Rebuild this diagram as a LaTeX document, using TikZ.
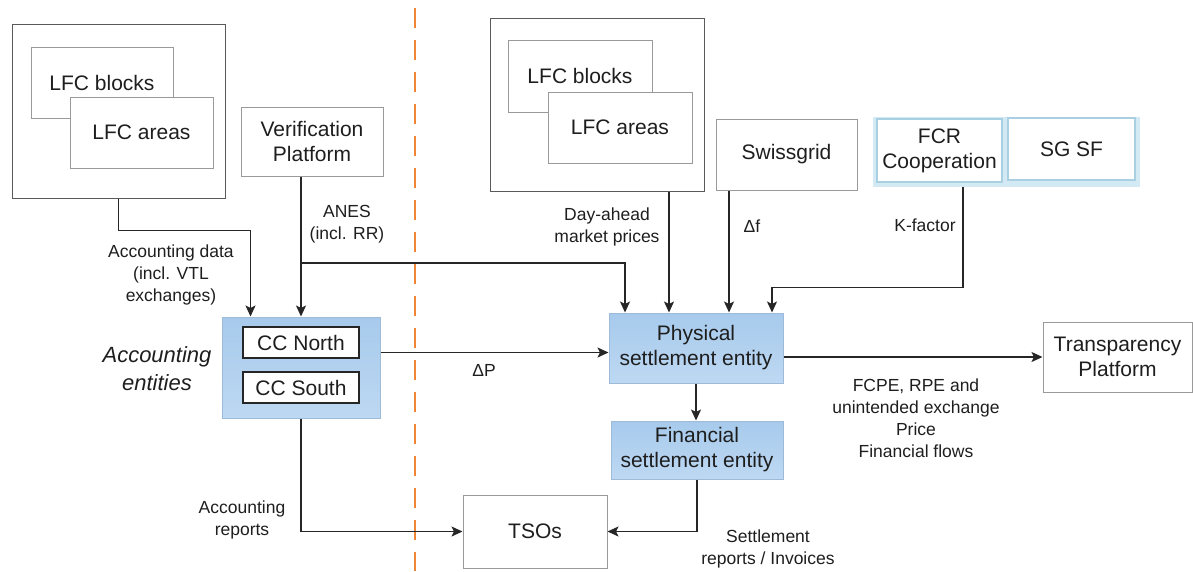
\documentclass[tikz,border=0pt]{standalone}
\usepackage{fontspec}
\setmainfont{Liberation Sans}
\usetikzlibrary{arrows.meta}
\definecolor{vtext}{HTML}{1e1e1e}
\definecolor{vline}{HTML}{262626}
\definecolor{vframe}{HTML}{9a9a9a}
\definecolor{vframedark}{HTML}{5a5a5a}
\definecolor{vbluetop}{HTML}{a7caec}
\definecolor{vbluebot}{HTML}{bdd8f2}
\definecolor{vblueedge}{HTML}{9dbbd9}
\definecolor{vglow}{HTML}{d3e9f4}
\definecolor{vglowedge}{HTML}{a9cfe2}
\definecolor{vorange}{HTML}{ef8636}

\begin{document}
\begin{tikzpicture}[x=1pt, y=-1pt,
		box/.style={draw=vframe, line width=1pt, fill=white, inner sep=0pt, align=center, text=vtext, font=\fontsize{21}{25}\selectfont},
		outerbox/.style={box, draw=vframedark},
		entitybox/.style={box, draw=vblueedge, top color=vbluetop, bottom color=vbluebot},
		ccbox/.style={box, draw=vline, line width=1.3pt},
		fcrbox/.style={box, draw=vglowedge, line width=1.2pt},
		flow/.style={draw=vline, line width=1.4pt, -{Stealth[length=11pt, width=10pt, inset=2.5pt]}},
		lbl/.style={align=center, text=vtext, inner sep=0pt, font=\fontsize{17.5}{22}\selectfont}]
		\useasboundingbox (0,0) rectangle (1193,571);
		\draw[color=vorange, line width=2pt, dash pattern=on 20pt off 12pt] (415,8) -- (415,571);
		\node[outerbox, minimum width=213pt, minimum height=174pt] (lfcL) at (118.5,111) {};
		\node[box, minimum width=142pt, minimum height=71pt] (blocksL) at (102,82.5) {LFC blocks};
		\node[box, minimum width=143pt, minimum height=71pt] (areasL) at (141.5,132.5) {LFC areas};
		\node[box, minimum width=142pt, minimum height=69pt] (verif) at (312,141.5) {Verification\\Platform};
		\node[outerbox, minimum width=214pt, minimum height=173pt] (lfcM) at (597,104.5) {};
		\node[box, minimum width=144pt, minimum height=72pt] (blocksM) at (580,76) {LFC blocks};
		\node[box, minimum width=144pt, minimum height=71pt] (areasM) at (620,127.5) {LFC areas};
		\node[box, minimum width=141pt, minimum height=71pt] (swiss) at (786.5,154.5) {Swissgrid};
		\node[draw=none, fill=vglow, minimum width=267pt, minimum height=70pt] (fcrgroup) at (1006.5,152) {};
		\node[fcrbox, minimum width=125pt, minimum height=63pt] (fcr) at (939.5,150.5) {FCR\\Cooperation};
		\node[fcrbox, minimum width=127pt, minimum height=62pt] (sgsf) at (1071.5,149) {SG SF};
		\node[entitybox, minimum width=158pt, minimum height=101pt] (acc) at (301,367.5) {};
		\node[ccbox, minimum width=116pt, minimum height=31pt] (north) at (301,342.5) {CC North};
		\node[ccbox, minimum width=116pt, minimum height=31pt] (south) at (301,387.5) {CC South};
		\node[align=center, text=vtext, inner sep=0pt, font=\fontsize{22}{28}\selectfont\itshape] (accent) at (157,369) {Accounting\\entities};
		\node[entitybox, minimum width=174pt, minimum height=70pt] (phys) at (696,348) {Physical\\settlement entity};
		\node[entitybox, minimum width=172pt, minimum height=58pt] (fin) at (697,450) {Financial\\settlement entity};
		\node[box, minimum width=149pt, minimum height=70pt] (transp) at (1117.5,357) {Transparency\\Platform};
		\node[box, minimum width=144pt, minimum height=73pt] (tsos) at (535,531.5) {TSOs};
		\coordinate (anes) at (301,263);
		\coordinate (anesIn) at ([xshift=-71pt]phys.north);
		\coordinate (daIn) at ([xshift=-27pt]phys.north);
		\coordinate (dfIn) at ([xshift=33pt]phys.north);
		\coordinate (kIn) at ([xshift=76pt]phys.north);
		\draw[flow] (lfcL.south) -- ++(0,32) -| ([xshift=29pt]acc.north west);
		\draw[flow] (verif.south -| acc.north) -- (acc.north);
		\draw[flow] (anes) -| (anesIn);
		\draw[flow] (lfcM.south -| daIn) -- (daIn);
		\draw[flow] (swiss.south -| dfIn) -- (dfIn);
		\draw[flow] ([xshift=23.5pt]fcrgroup.south -| fcr.south) -- ++(0,100) -| (kIn);
		\draw[flow] ([yshift=15pt]acc.east) -- ([yshift=15pt]acc.east -| phys.west);
		\draw[flow] (phys.east |- transp.west) -- (transp.west);
		\draw[flow] (phys.south) -- (phys.south |- fin.north);
		\draw[flow] (fin.south) |- (tsos.east);
		\draw[flow] (acc.south) |- (tsos.west);
		\node[lbl] (accdata) at (171,275) {Accounting data\\(incl. VTL\\exchanges)};
		\node[lbl] (aneslbl) at (347,224) {ANES\\(incl. RR)};
		\node[lbl] (dayahead) at (607,227) {Day-ahead\\market prices};
		\node[lbl] (dflbl) at (752,226) {Δf};
		\node[lbl] (kfactor) at (925,225) {K-factor};
		\node[lbl] (dplbl) at (484,370) {ΔP};
		\node[lbl] (flows) at (916,418) {FCPE, RPE and\\unintended exchange\\Price\\Financial flows};
		\node[lbl] (setrep) at (768,549) {Settlement\\reports / Invoices};
		\node[lbl] (accrep) at (242,520) {Accounting\\reports};
	\end{tikzpicture}
\end{document}
